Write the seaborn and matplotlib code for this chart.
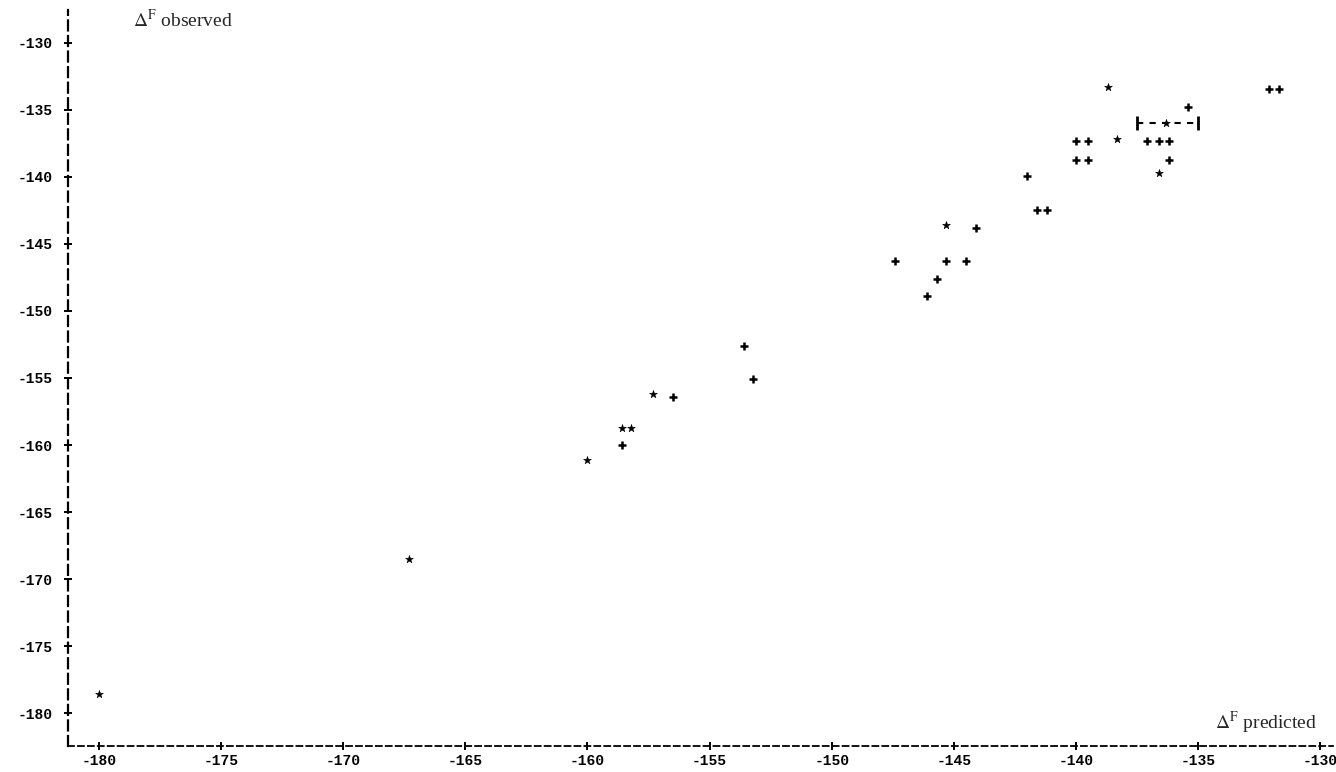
import pandas as pd
import matplotlib.pyplot as plt
import seaborn as sns

# points printed as "*"
star_pred = [-180.0, -167.3, -160.0, -158.6, -158.2, -157.3, -145.3, -138.7, -138.3, -136.6, -136.3]
star_obs = [-178.6, -168.5, -161.1, -158.7, -158.7, -156.2, -143.6, -133.3, -137.2, -139.7, -136.0]

# points printed as "+"
plus_pred = [-158.6, -156.5, -153.6, -153.2, -147.4, -146.1, -145.7, -145.3, -144.5, -144.1,
             -142.0, -141.6, -141.2, -140.0, -139.5, -140.0, -139.5, -137.1, -136.6, -136.2,
             -136.2, -135.4, -132.1, -131.7]
plus_obs = [-160.0, -156.4, -152.6, -155.1, -146.3, -148.9, -147.6, -146.3, -146.3, -143.8,
            -139.9, -142.5, -142.5, -138.7, -138.7, -137.3, -137.3, -137.3, -137.3, -137.3,
            -138.7, -134.8, -133.4, -133.4]

# range bracket "[--*--]"
range_center = -136.3
range_obs = -136.0
range_lo = -137.5
range_hi = -135.0

ticks = [-180, -175, -170, -165, -160, -155, -150, -145, -140, -135, -130]

df_star = pd.DataFrame({'pred': star_pred, 'obs': star_obs})
df_plus = pd.DataFrame({'pred': plus_pred, 'obs': plus_obs})

sns.set_style("white")
plt.rcParams['axes.unicode_minus'] = False
plt.rcParams['mathtext.fontset'] = 'stix'

fig = plt.figure(figsize=(13.36, 7.72), dpi=100)
ax = fig.add_axes([68 / 1336, 1 - 746 / 772, (1333 - 68) / 1336, (746 - 10) / 772])

sns.scatterplot(data=df_plus, x='pred', y='obs', marker='+', s=40, linewidth=1.8,
                color='black', ax=ax, clip_on=False)
sns.scatterplot(data=df_star, x='pred', y='obs', marker='*', s=34, linewidth=0.4,
                edgecolor='black', color='black', ax=ax, clip_on=False)

eb = ax.errorbar(range_center, range_obs,
                 xerr=[[range_center - range_lo], [range_hi - range_center]],
                 fmt='none', ecolor='black', elinewidth=1.5, capsize=5, capthick=2)
eb[2][0].set_linestyle((0, (3, 3)))

ax.set_xlim(-181.27, -129.47)
ax.set_ylim(-182.46, -127.54)

ax.set_xticks(ticks)
ax.set_yticks(ticks)
ax.set_xticklabels([str(t) for t in ticks])
ax.set_yticklabels([str(t) for t in ticks])
for lab in ax.get_xticklabels() + ax.get_yticklabels():
    lab.set_family('Liberation Mono')
    lab.set_fontweight('bold')
    lab.set_fontsize(10.5)

ax.tick_params(axis='both', which='major', direction='inout', length=6, width=1.4,
               color='black', labelcolor='black')
ax.tick_params(axis='y', pad=8, left=True)
ax.tick_params(axis='x', pad=3, bottom=True)

for side in ['top', 'right']:
    ax.spines[side].set_visible(False)
ax.spines['left'].set_linewidth(1.6)
ax.spines['left'].set_linestyle((0, (4.5, 2.5)))
ax.spines['bottom'].set_linewidth(1.3)
ax.spines['bottom'].set_linestyle((0, (3.3, 2.2)))
ax.spines['left'].set_color('black')
ax.spines['bottom'].set_color('black')

ax.set_xlabel('')
ax.set_ylabel('')

fig.text(133 / 1336, 1 - 27 / 772, r'$\Delta^{\mathrm{F}}$ observed', fontsize=14,
         family='Liberation Serif', va='baseline', ha='left')
fig.text(1215 / 1336, 1 - 729 / 772, r'$\Delta^{\mathrm{F}}$ predicted', fontsize=14,
         family='Liberation Serif', va='baseline', ha='left')

plt.savefig('out.png', dpi=100)
